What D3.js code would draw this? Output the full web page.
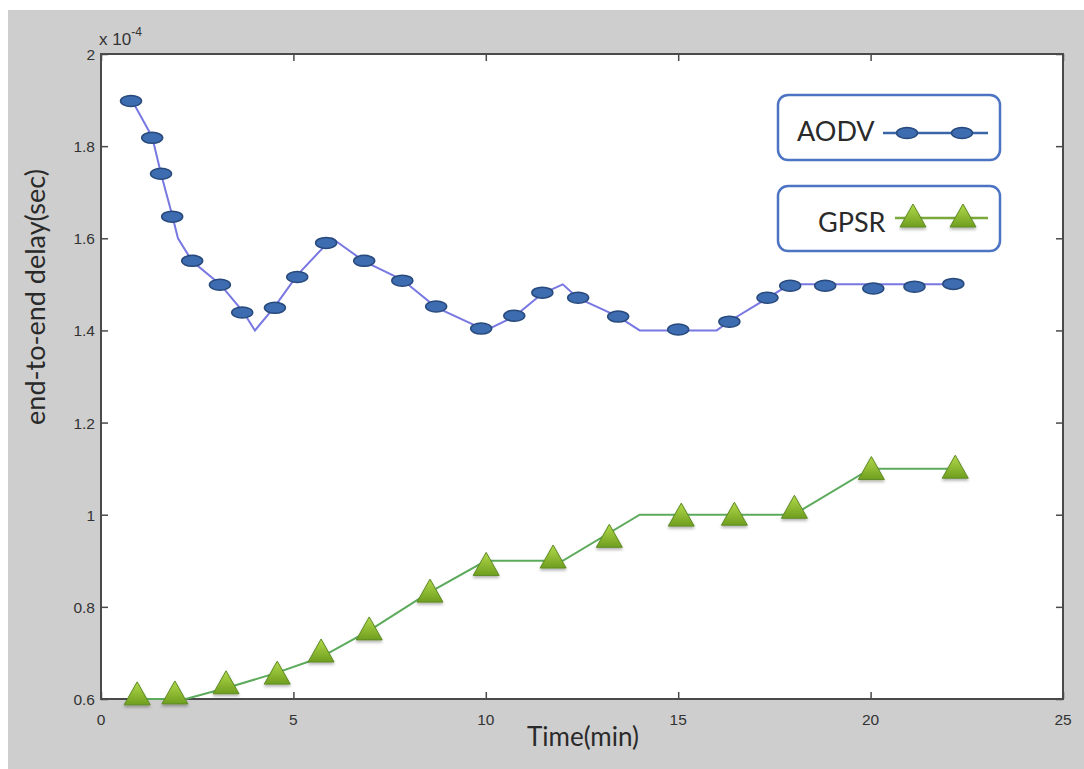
<!DOCTYPE html>
<html>
<head>
<meta charset="utf-8">
<script src="https://cdn.jsdelivr.net/npm/d3@7"></script>
<style>
  body { margin: 0; background: #fff; }
  .tick-label { font-family: "Liberation Sans", Arial, sans-serif; font-size: 15.5px; fill: #333; }
  .big-label { font-family: Lato, "Open Sans", sans-serif; fill: #2a2a2a; }
</style>
</head>
<body>
<div id="chart"></div>
<script>
// x ticks / y ticks
var xTicks = [0, 5, 10, 15, 20, 25];
var yTicks = [0.6, 0.8, 1, 1.2, 1.4, 1.6, 1.8, 2];
var yTickLabels = ["0.6", "0.8", "1", "1.2", "1.4", "1.6", "1.8", "2"];

// AODV - the plotted line (units of 1e-4 sec)
var aodvLineX = [0.8, 1.33, 1.56, 1.85, 2.0, 2.37, 3.1, 3.7, 4.0, 4.5, 5.1, 6.0, 6.84, 7.83, 8.71, 10.0, 10.74, 11.47, 12.0, 12.4, 13.44, 14.0, 16.0, 16.33, 17.32, 17.9, 22.15];
var aodvLineY = [1.90, 1.82, 1.74, 1.65, 1.60, 1.55, 1.50, 1.44, 1.40, 1.45, 1.52, 1.60, 1.55, 1.51, 1.45, 1.40, 1.43, 1.48, 1.50, 1.47, 1.43, 1.40, 1.40, 1.42, 1.47, 1.50, 1.50];
// AODV - marker positions (markers were placed by hand, a bit off the line)
var aodvMarkX = [0.78, 1.33, 1.56, 1.85, 2.37, 3.09, 3.67, 4.52, 5.10, 5.85, 6.84, 7.83, 8.71, 9.88, 10.74, 11.47, 12.40, 13.44, 15.0, 16.33, 17.32, 17.91, 18.82, 20.07, 21.14, 22.15];
var aodvMarkY = [1.898, 1.818, 1.740, 1.647, 1.551, 1.499, 1.439, 1.449, 1.516, 1.590, 1.551, 1.508, 1.452, 1.404, 1.432, 1.482, 1.471, 1.430, 1.402, 1.419, 1.471, 1.497, 1.497, 1.491, 1.495, 1.501];

// GPSR - the plotted line
var gpsrLineX = [0.94, 2.2, 3.3, 4.5, 5.7, 7.0, 8.5, 10.0, 12.0, 14.0, 18.0, 20.0, 22.2];
var gpsrLineY = [0.60, 0.60, 0.625, 0.655, 0.69, 0.75, 0.83, 0.90, 0.90, 1.00, 1.00, 1.10, 1.10];
// GPSR - marker positions
var gpsrMarkX = [0.94, 1.92, 3.25, 4.58, 5.72, 6.97, 8.55, 10.01, 11.75, 13.21, 15.08, 16.46, 18.02, 20.02, 22.20];
var gpsrMarkY = [0.609, 0.611, 0.633, 0.654, 0.702, 0.750, 0.832, 0.890, 0.906, 0.951, 0.997, 0.999, 1.014, 1.098, 1.101];

var seriesNames = ["AODV", "GPSR"];

var svgWidth = 1084;
var svgHeight = 769;

var margin = { top: 54, right: 21, bottom: 70, left: 101 };
var width = svgWidth - margin.left - margin.right;
var height = svgHeight - margin.top - margin.bottom;

var svg = d3.select("#chart")
  .append("svg")
  .attr("width", svgWidth)
  .attr("height", svgHeight);

// grey figure background
svg.append("rect")
  .attr("x", 8).attr("y", 10)
  .attr("width", svgWidth - 8).attr("height", svgHeight - 10)
  .attr("fill", "#cecece");

var defs = svg.append("defs");
var grad = defs.append("linearGradient")
  .attr("id", "triGrad").attr("x1", 0).attr("y1", 0).attr("x2", 0).attr("y2", 1);
grad.append("stop").attr("offset", "0%").attr("stop-color", "#b2d94a");
grad.append("stop").attr("offset", "100%").attr("stop-color", "#6f9e1f");
var shadow = defs.append("filter").attr("id", "shadow")
  .attr("x", "-30%").attr("y", "-30%").attr("width", "160%").attr("height", "170%");
shadow.append("feDropShadow")
  .attr("dx", 0).attr("dy", 2).attr("stdDeviation", 1.5)
  .attr("flood-color", "#000").attr("flood-opacity", 0.3);

var chartGroup = svg.append("g")
  .attr("transform", `translate(${margin.left}, ${margin.top})`);

// scales
var xScale = d3.scaleLinear().domain([0, 25]).range([0, width]);
var yScale = d3.scaleLinear().domain([0.6, 2]).range([height, 0]);

// white plot box
chartGroup.append("rect")
  .attr("width", width).attr("height", height)
  .attr("fill", "#fff");

// axes (ticks pointing inwards, labels drawn separately)
var axisColor = "#4a4a4a";
function styleAxis(g) {
  g.select(".domain").remove();
  g.selectAll("line").attr("stroke", axisColor).attr("stroke-width", 1.5);
  g.selectAll("text").remove();
}
chartGroup.append("g")
  .attr("transform", `translate(0, ${height})`)
  .call(d3.axisBottom(xScale).tickValues(xTicks).tickSizeInner(-7).tickSizeOuter(0))
  .call(styleAxis);
chartGroup.append("g")
  .call(d3.axisTop(xScale).tickValues(xTicks).tickSizeInner(-7).tickSizeOuter(0))
  .call(styleAxis);
chartGroup.append("g")
  .call(d3.axisLeft(yScale).tickValues(yTicks).tickSizeInner(-7).tickSizeOuter(0))
  .call(styleAxis);
chartGroup.append("g")
  .attr("transform", `translate(${width}, 0)`)
  .call(d3.axisRight(yScale).tickValues(yTicks).tickSizeInner(-7).tickSizeOuter(0))
  .call(styleAxis);

// box
chartGroup.append("rect")
  .attr("width", width).attr("height", height)
  .attr("fill", "none").attr("stroke", axisColor).attr("stroke-width", 2);

// tick labels
chartGroup.selectAll(".xlab")
  .data(xTicks)
  .enter().append("text")
  .attr("class", "tick-label")
  .attr("x", d => xScale(d))
  .attr("y", height + 26)
  .attr("text-anchor", "middle")
  .text(d => d);
chartGroup.selectAll(".ylab")
  .data(yTicks)
  .enter().append("text")
  .attr("class", "tick-label")
  .attr("x", -6)
  .attr("y", d => yScale(d) + 6)
  .attr("text-anchor", "end")
  .text((d, i) => yTickLabels[i]);

// exponent
var expo = chartGroup.append("text")
  .attr("class", "tick-label")
  .attr("x", -2).attr("y", -9)
  .style("font-size", "17px");
expo.append("tspan").text("x 10");
expo.append("tspan").attr("dy", -9).style("font-size", "12px").text("-4");

// lines
var line = d3.line().x(d => xScale(d[0])).y(d => yScale(d[1]));
var aodvLine = aodvLineX.map((x, i) => [x, aodvLineY[i]]);
var gpsrLine = gpsrLineX.map((x, i) => [x, gpsrLineY[i]]);

chartGroup.append("path")
  .datum(aodvLine)
  .attr("d", line)
  .attr("fill", "none")
  .attr("stroke", "#7878e2")
  .attr("stroke-width", 2);
chartGroup.append("path")
  .datum(gpsrLine)
  .attr("d", line)
  .attr("fill", "none")
  .attr("stroke", "#5caa5c")
  .attr("stroke-width", 2);

// markers
function ellipseMark(sel) {
  sel.attr("rx", 10.5).attr("ry", 5.5)
    .attr("fill", "#3d6db0")
    .attr("stroke", "#28497c")
    .attr("stroke-width", 1.5);
}
var triPath = "M0,-13 L13,10 L-13,10 Z";
function triMark(sel) {
  sel.attr("d", triPath)
    .attr("fill", "url(#triGrad)")
    .attr("stroke", "#5d8b22")
    .attr("stroke-width", 1)
    .attr("filter", "url(#shadow)");
}

chartGroup.selectAll(".aodv")
  .data(aodvMarkX.map((x, i) => [x, aodvMarkY[i]]))
  .enter().append("ellipse")
  .attr("cx", d => xScale(d[0]))
  .attr("cy", d => yScale(d[1]))
  .call(ellipseMark);

chartGroup.selectAll(".gpsr")
  .data(gpsrMarkX.map((x, i) => [x, gpsrMarkY[i]]))
  .enter().append("path")
  .attr("transform", d => `translate(${xScale(d[0])}, ${yScale(d[1])})`)
  .call(triMark);

// axis titles
svg.append("text")
  .attr("class", "big-label")
  .attr("x", 583).attr("y", 746)
  .attr("text-anchor", "middle")
  .attr("font-size", 26)
  .text("Time(min)");
svg.append("text")
  .attr("class", "big-label")
  .attr("transform", "translate(45, 297) rotate(-90)")
  .attr("text-anchor", "middle")
  .attr("font-size", 27)
  .text("end-to-end delay(sec)");

// legend boxes
var legend = svg.append("g");
var legendItems = legend.selectAll("g")
  .data(seriesNames)
  .enter().append("g")
  .attr("transform", (d, i) => `translate(778, ${95 + i * 91})`);

legendItems.append("rect")
  .attr("width", 222).attr("height", 65)
  .attr("rx", 10).attr("ry", 10)
  .attr("fill", "#fff")
  .attr("stroke", "#4d74c2")
  .attr("stroke-width", 2.5);

legendItems.append("text")
  .attr("class", "big-label")
  .attr("x", (d, i) => i === 0 ? 19 : 40)
  .attr("y", 46)
  .attr("font-size", 27)
  .text(d => d);

legendItems.append("line")
  .attr("x1", (d, i) => i === 0 ? 105 : 117)
  .attr("x2", 210)
  .attr("y1", (d, i) => i === 0 ? 38 : 32)
  .attr("y2", (d, i) => i === 0 ? 38 : 32)
  .attr("stroke", (d, i) => i === 0 ? "#3a66a8" : "#7aa83a")
  .attr("stroke-width", 2.5);

legendItems.filter((d, i) => i === 0).selectAll("ellipse")
  .data([129, 184])
  .enter().append("ellipse")
  .attr("cx", d => d).attr("cy", 38)
  .call(ellipseMark);

legendItems.filter((d, i) => i === 1).selectAll("path")
  .data([135, 185])
  .enter().append("path")
  .attr("transform", d => `translate(${d}, 31)`)
  .call(triMark);
</script>
</body>
</html>
